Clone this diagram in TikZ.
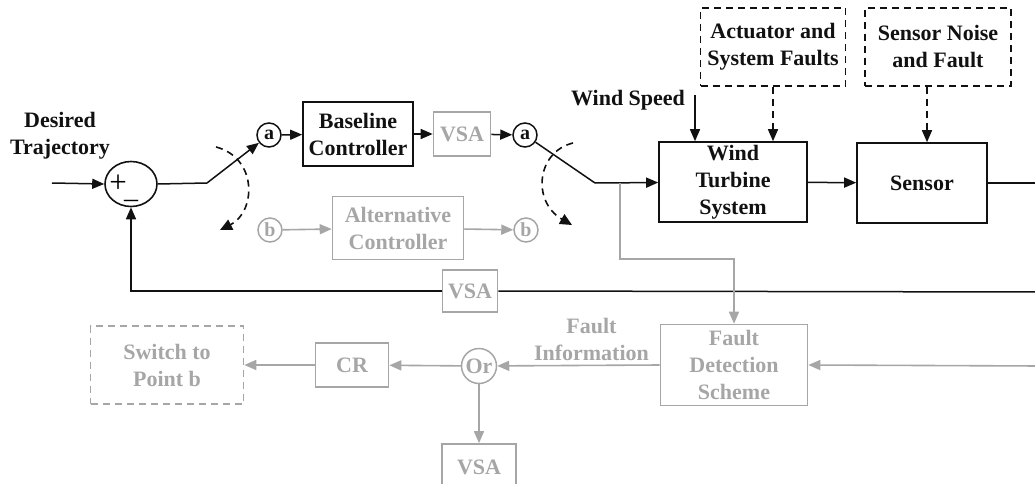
\documentclass[tikz,border=0pt]{standalone}
\usepackage{fontspec}
\setmainfont{Liberation Serif}
\usepackage{tikz}
\usetikzlibrary{arrows.meta,shapes.geometric}
\definecolor{faultgray}{HTML}{A6A6A6}
\definecolor{loopink}{HTML}{111111}
\newcommand{\diagfont}{\fontsize{22}{27}\selectfont\bfseries}

\begin{document}
\begin{tikzpicture}[x=1pt,y=-1pt,
  block/.style={draw=loopink,line width=1.6pt,inner sep=0pt,align=center,
    font=\diagfont,text=loopink},
  wh/.style 2 args={minimum width=#1,minimum height=#2},
  grayblock/.style={block,draw=faultgray,text=faultgray},
  dashblock/.style={block,dash pattern=on 7pt off 5pt},
  port/.style={circle,draw=loopink,line width=1.5pt,minimum size=24pt,
    inner sep=0pt,font=\fontsize{20}{20}\selectfont\bfseries,text=loopink},
  grayport/.style={port,draw=faultgray,text=faultgray},
  note/.style={align=center,font=\diagfont,text=loopink},
  graynote/.style={note,text=faultgray},
  wire/.style={draw=loopink,line width=1.5pt},
  flow/.style={wire,-{Triangle[length=12pt,width=10pt]}},
  grayflow/.style={flow,draw=faultgray,line width=1.6pt},
  turn/.style={wire,line width=1.6pt,dash pattern=on 7pt off 5pt,
    -{Triangle[length=12pt,width=11pt]}}
]
  \clip (0,0) rectangle (1035,484);

  % main loop
  \node[note] (desired) at (60,136) {Desired\\Trajectory};
  \node[draw=loopink,ellipse,line width=1.6pt,minimum width=52pt,
    minimum height=45pt,inner sep=0pt] (sum) at (131,184) {};
  \node[font=\fontsize{31}{31}\selectfont,inner sep=0pt] (plus) at (118,184) {+};
  \node[font=\fontsize{28}{28}\selectfont,inner sep=0pt] (minus) at (131,204) {\textendash};
  \coordinate (in) at (52,183);
  \draw[flow] (in) -- (sum.west);

  \node[port] (porta1) at (269,135) {a};
  \node[block,wh={110pt}{64pt}] (baseline) at (358,134) {Baseline\\Controller};
  \node[grayblock,wh={57pt}{44pt}] (vsa1) at (462,134) {VSA};
  \node[port] (porta2) at (525,135) {a};

  \coordinate (pivot1) at (207,183);
  \coordinate (pivot2) at (595,183);
  \draw[wire] (sum.east) -- (pivot1);
  \draw[flow] (pivot1) -- (porta1);
  \draw[flow] (porta1) -- (baseline);
  \draw[flow] (baseline) -- (vsa1);
  \draw[flow] (vsa1) -- (porta2);
  \draw[wire] (porta2) -- (pivot2);

  % switch travel
  \coordinate (swa1) at (216,147);
  \coordinate (swb1) at (220,230);
  \coordinate (swa2) at (573,143);
  \coordinate (swb2) at (572,225);
  \draw[turn] (swa1) .. controls (258,158) and (256,212) .. (swb1);
  \draw[turn] (swa2) .. controls (536,152) and (532,202) .. (swb2);

  % alternative branch
  \node[grayport] (portb1) at (270,230) {b};
  \node[grayblock,wh={131pt}{63pt}] (alt) at (398,228) {Alternative\\Controller};
  \node[grayport] (portb2) at (526,230) {b};
  \draw[grayflow] (portb1) -- (alt);
  \draw[grayflow] (alt) -- (portb2);

  % plant and sensor
  \node[block,wh={148pt}{80pt}] (wts) at (733,182) {Wind\\Turbine\\System};
  \node[block,wh={130pt}{80pt}] (sensor) at (922,183) {Sensor};
  \node[dashblock,wh={145pt}{78pt}] (asf) at (773,47) {Actuator and\\System Faults};
  \node[dashblock,wh={146pt}{78pt}] (snf) at (938,47) {Sensor Noise\\and Fault};
  \node[note] (wind) at (628,100) {Wind Speed};

  \draw[flow] (pivot2) -- (wts);
  \draw[flow] (wts) -- (sensor);
  \coordinate (windtop) at (695,95);
  \draw[flow] (windtop) -- (windtop |- wts.north);
  \draw[flow,dash pattern=on 7pt off 5pt] (asf.south) -- (asf.south |- wts.north);
  \draw[flow,dash pattern=on 7pt off 5pt] ([xshift=-11pt]snf.south)
    -- ([xshift=-11pt]snf.south |- sensor.north);
  \coordinate (outR) at (1040,183);
  \draw[wire] (sensor) -- (outR);

  % feedback
  \node[grayblock,wh={55pt}{42pt}] (vsa2) at (470,291) {VSA};
  \coordinate (fbR) at (1040,292);
  \draw[wire] (fbR) -- (vsa2.east);
  \draw[flow] (vsa2.west) -| (sum.south);

  % fault detection path
  \node[grayblock,wh={147pt}{81pt}] (fds) at (734,365) {Fault\\Detection\\Scheme};
  \node[grayport,minimum size=35pt,font=\diagfont] (orgate) at (479,366) {Or};
  \node[grayblock,wh={73pt}{44pt}] (cr) at (352,365) {CR};
  \node[grayblock,dash pattern=on 7pt off 5pt,wh={153pt}{78pt}] (stp) at (167,365)
    {Switch to\\Point b};
  \node[grayblock,wh={74pt}{46pt}] (vsa3) at (479,467) {VSA};

  \coordinate (tap) at (620,183);
  \coordinate (tapturn) at (620,259);
  \draw[grayflow] (tap) -- (tapturn) -| (fds.north);
  \coordinate (fdsR) at (1040,366);
  \draw[grayflow] (fdsR) -- (fds.east);
  \draw[grayflow] (fds.west) -- node[graynote,pos=.42,above=1pt] {Fault\\Information} (orgate);
  \draw[grayflow] (orgate) -- (cr);
  \draw[grayflow] (cr) -- (stp);
  \draw[grayflow] (orgate) -- (vsa3);
\end{tikzpicture}
\end{document}
